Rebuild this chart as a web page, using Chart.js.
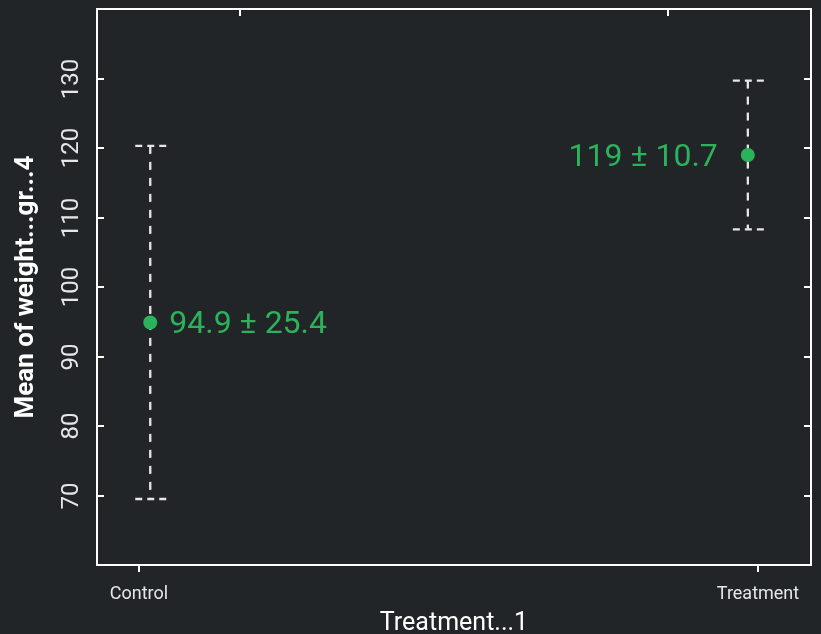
<!DOCTYPE html>
<html>
<head>
<meta charset="utf-8">
<script src="https://cdn.jsdelivr.net/npm/chart.js@4"></script>
<style>
  html, body { margin: 0; padding: 0; background: #222528; }
  #wrap { width: 821px; height: 634px; }
</style>
</head>
<body>
<div id="wrap"><canvas id="myChart" width="821" height="634"></canvas></div>
<script>
'use strict';

// groups and summary values
let groups = ['Control', 'Treatment'];
let groupTicks = [1, 2];
let pointX = [1.018, 1.983];
let means = [94.9, 119];
let sds = [25.4, 10.7];
let yTicks = [70, 80, 90, 100, 110, 120, 130];
let topTicks = [1.163, 1.854];

let green = '#2bb35b';
let fg = '#ffffff';

let points = [];
for (let i = 0; i < groups.length; i++) {
    points.push({x: pointX[i], y: means[i]});
}

// axes box, ticks, labels, error bars
let decor = {
    id: 'decor',
    beforeDatasetsDraw(chart) {
        let ctx = chart.ctx;
        let a = chart.chartArea;
        let xs = chart.scales.x;
        let ys = chart.scales.y;
        ctx.save();

        // frame
        ctx.strokeStyle = fg;
        ctx.lineWidth = 2;
        ctx.strokeRect(a.left, a.top, a.right - a.left, a.bottom - a.top);

        // y ticks (inward, both sides)
        ctx.fillStyle = '#e6e6e6';
        ctx.font = '24px Roboto';
        for (let v of yTicks) {
            let py = Math.round(ys.getPixelForValue(v));
            ctx.beginPath();
            ctx.moveTo(a.left, py); ctx.lineTo(a.left + 7, py);
            ctx.moveTo(a.right, py); ctx.lineTo(a.right - 7, py);
            ctx.stroke();
            ctx.save();
            ctx.translate(78, py);
            ctx.rotate(-Math.PI / 2);
            ctx.textAlign = 'center';
            ctx.textBaseline = 'alphabetic';
            ctx.fillText(String(v), 0, 0);
            ctx.restore();
        }

        // top ticks
        for (let v of topTicks) {
            let px = Math.round(xs.getPixelForValue(v));
            ctx.beginPath();
            ctx.moveTo(px, a.top); ctx.lineTo(px, a.top + 7);
            ctx.stroke();
        }

        // bottom ticks and group names
        ctx.font = '18px Roboto';
        ctx.textAlign = 'center';
        for (let i = 0; i < groups.length; i++) {
            let px = Math.round(xs.getPixelForValue(groupTicks[i]));
            ctx.beginPath();
            ctx.moveTo(px, a.bottom); ctx.lineTo(px, a.bottom + 7);
            ctx.stroke();
            ctx.fillText(groups[i], px, 599);
        }

        // axis titles
        ctx.fillStyle = fg;
        ctx.font = '25px Roboto';
        ctx.fillText('Treatment...1', (a.left + a.right) / 2, 630);
        ctx.save();
        ctx.translate(33, (a.top + a.bottom) / 2);
        ctx.rotate(-Math.PI / 2);
        ctx.font = 'bold 26px Roboto';
        ctx.fillText('Mean of weight...gr...4', 0, 0);
        ctx.restore();

        // dashed error bars
        ctx.strokeStyle = '#e6e6e6';
        ctx.lineWidth = 2.3;
        for (let i = 0; i < means.length; i++) {
            let px = xs.getPixelForValue(pointX[i]);
            let top = ys.getPixelForValue(means[i] + sds[i]);
            let bot = ys.getPixelForValue(means[i] - sds[i]);
            ctx.setLineDash([8, 8]);
            ctx.beginPath();
            ctx.moveTo(px, top); ctx.lineTo(px, bot);
            ctx.stroke();
            ctx.setLineDash([7, 5]);
            ctx.beginPath();
            ctx.moveTo(px - 15, top); ctx.lineTo(px + 16, top);
            ctx.moveTo(px - 15, bot); ctx.lineTo(px + 16, bot);
            ctx.stroke();
        }
        ctx.restore();
    },
    afterDatasetsDraw(chart) {
        let ctx = chart.ctx;
        let xs = chart.scales.x;
        let ys = chart.scales.y;
        ctx.save();
        ctx.fillStyle = green;
        ctx.font = '32px Roboto';
        ctx.textBaseline = 'alphabetic';
        for (let i = 0; i < means.length; i++) {
            let px = xs.getPixelForValue(pointX[i]);
            let py = ys.getPixelForValue(means[i]);
            let txt = means[i] + ' \u00b1 ' + sds[i];
            if (i === 0) {
                ctx.textAlign = 'left';
                ctx.fillText(txt, px + 19, py + 11);
            } else {
                ctx.textAlign = 'right';
                ctx.fillText(txt, px - 30, py + 11);
            }
        }
        ctx.restore();
    }
};

let ctx = document.getElementById('myChart').getContext('2d');
let myChart = new Chart(ctx, {
    type: 'scatter',
    data: {
        datasets: [{
            data: points,
            backgroundColor: green,
            borderWidth: 0,
            pointRadius: 7,
            pointHoverRadius: 7
        }]
    },
    options: {
        responsive: false,
        animation: false,
        events: [],
        layout: {
            padding: {left: 97, right: 10, top: 9, bottom: 69}
        },
        plugins: {
            legend: {display: false},
            tooltip: {enabled: false}
        },
        scales: {
            x: {type: 'linear', display: false, min: 0.932, max: 2.085},
            y: {type: 'linear', display: false, min: 60, max: 140}
        }
    },
    plugins: [decor]
});
</script>
</body>
</html>
